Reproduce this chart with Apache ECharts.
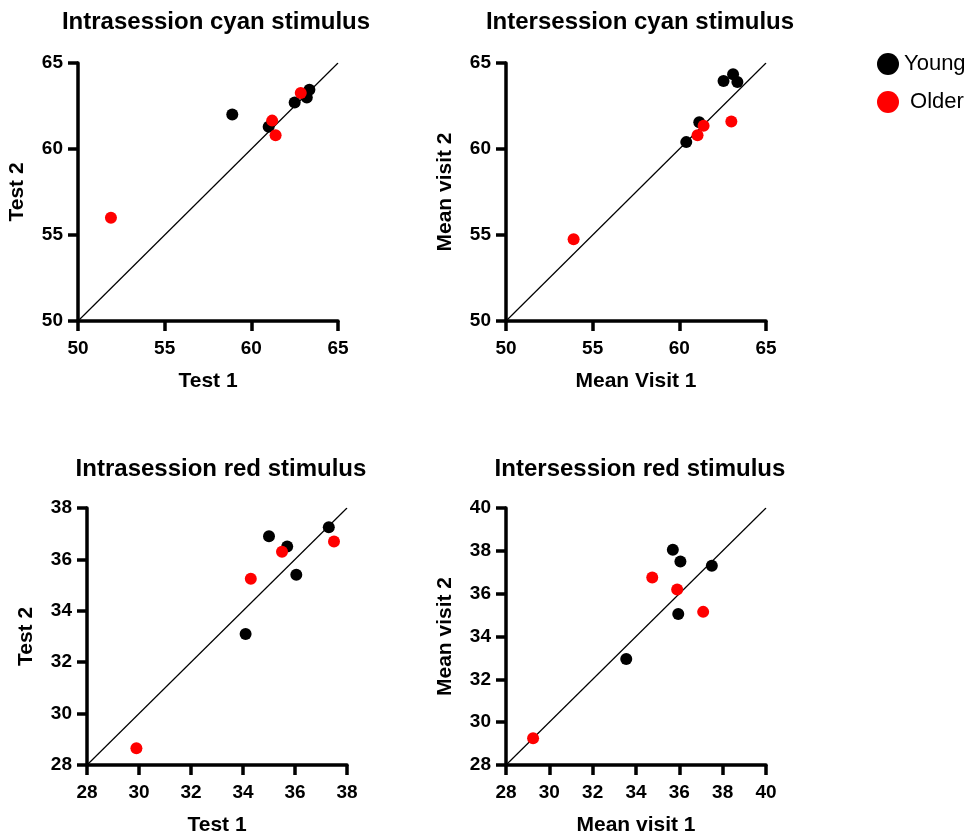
<!DOCTYPE html>
<html>
<head>
<meta charset="utf-8">
<script src="https://cdn.jsdelivr.net/npm/echarts@6/dist/echarts.min.js"></script>
<style>
  html, body { margin: 0; padding: 0; background: #fff; }
  #main { width: 973px; height: 837px; }
</style>
</head>
<body>
<div id="main"></div>
<script>
// values: [x, y]
var intraCyanYoung = [[58.9, 62.0], [61.0, 61.3], [62.5, 62.7], [63.2, 63.0], [63.35, 63.45]];
var intraCyanOlder = [[51.9, 56.0], [61.2, 61.65], [61.4, 60.8], [62.85, 63.25]];
var interCyanYoung = [[60.4, 60.4], [61.15, 61.55], [62.55, 63.95], [63.1, 64.35], [63.35, 63.9]];
var interCyanOlder = [[53.9, 54.75], [61.05, 60.8], [61.4, 61.35], [63.0, 61.6]];
var intraRedYoung = [[34.1, 33.1], [35.0, 36.9], [35.7, 36.5], [36.05, 35.4], [37.3, 37.25]];
var intraRedOlder = [[29.9, 28.65], [34.3, 35.25], [35.5, 36.3], [37.5, 36.7]];
var interRedYoung = [[33.55, 32.95], [35.7, 38.05], [35.95, 35.05], [36.05, 37.5], [37.5, 37.3]];
var interRedOlder = [[29.25, 29.25], [34.75, 36.75], [35.9, 36.2], [37.1, 35.15]];

var groups = ['Young', 'Older'];
var titles = ['Intrasession cyan stimulus', 'Intersession cyan stimulus',
    'Intrasession red stimulus', 'Intersession red stimulus'];
var xNames = ['Test 1', 'Mean Visit 1', 'Test 1', 'Mean visit 1'];
var yNames = ['Test 2', 'Mean visit 2', 'Test 2', 'Mean visit 2'];
// axis ranges [min, max, interval]
var ranges = [[50, 65, 5], [50, 65, 5], [28, 38, 2], [28, 40, 2]];
// identity lines y = x
var identity = [
    [[50, 50], [65, 65]],
    [[50, 50], [65, 65]],
    [[28, 28], [38, 38]],
    [[28, 28], [40, 40]]
];

var youngData = [intraCyanYoung, interCyanYoung, intraRedYoung, interRedYoung];
var olderData = [intraCyanOlder, interCyanOlder, intraRedOlder, interRedOlder];

var font = '"Liberation Sans", Arial, sans-serif';
var grids = [
    {left: 78, top: 63, width: 260, height: 258},
    {left: 506, top: 63, width: 260, height: 258},
    {left: 87, top: 508, width: 260, height: 259},
    {left: 506, top: 508, width: 260, height: 259}
];
var titlePos = [[211, 5], [635, 5], [216, 452], [635, 452]];

var axisCommon = function(r) {
    return {
        type: 'value',
        min: r[0],
        max: r[1],
        interval: r[2],
        splitLine: {show: false},
        axisLine: {show: true, onZero: false, lineStyle: {color: '#000', width: 3.5}},
        axisTick: {show: true, length: 10, lineStyle: {color: '#000', width: 3.5}},
        nameLocation: 'middle',
        nameTextStyle: {color: '#000', fontSize: 21, fontWeight: 'bold', fontFamily: font}
    };
};

var xAxis = [], yAxis = [], series = [], title = [];
for (var i = 0; i < 4; i++) {
    var xa = axisCommon(ranges[i]);
    xa.gridIndex = i;
    xa.name = xNames[i];
    xa.nameGap = 50;
    xa.axisLabel = {color: '#000', fontSize: 19, fontWeight: 'bold', fontFamily: font, margin: 18};
    xAxis.push(xa);

    var ya = axisCommon(ranges[i]);
    ya.gridIndex = i;
    ya.name = yNames[i];
    ya.nameGap = 50;
    ya.axisLabel = {color: '#000', fontSize: 19, fontWeight: 'bold', fontFamily: font, margin: 15};
    yAxis.push(ya);

    title.push({
        text: titles[i],
        left: titlePos[i][0],
        top: titlePos[i][1],
        textAlign: 'center',
        textStyle: {color: '#000', fontSize: 24, fontWeight: 'bold', fontFamily: font}
    });

    series.push({
        type: 'line',
        xAxisIndex: i,
        yAxisIndex: i,
        data: identity[i],
        symbol: 'none',
        silent: true,
        lineStyle: {color: '#000', width: 1.2},
        z: 1
    });
    series.push({
        name: 'Young',
        type: 'scatter',
        xAxisIndex: i,
        yAxisIndex: i,
        data: youngData[i],
        symbolSize: 12,
        itemStyle: {color: '#000', opacity: 1},
        z: 2
    });
    series.push({
        name: 'Older',
        type: 'scatter',
        xAxisIndex: i,
        yAxisIndex: i,
        data: olderData[i],
        symbolSize: 12,
        itemStyle: {color: '#ff0000', opacity: 1},
        z: 3
    });
}

var myChart = echarts.init(document.getElementById('main'));
var option = {
    backgroundColor: '#fff',
    animation: false,
    title: title,
    legend: {
        data: groups,
        orient: 'vertical',
        left: 872,
        top: 48,
        icon: 'circle',
        itemWidth: 22,
        itemHeight: 22,
        itemGap: 16,
        selectedMode: false,
        formatter: function(name) {
            return name === 'Older' ? ' ' + name : name;
        },
        textStyle: {color: '#000', fontSize: 22, fontFamily: font}
    },
    grid: grids,
    xAxis: xAxis,
    yAxis: yAxis,
    series: series
};
myChart.setOption(option);
</script>
</body>
</html>
